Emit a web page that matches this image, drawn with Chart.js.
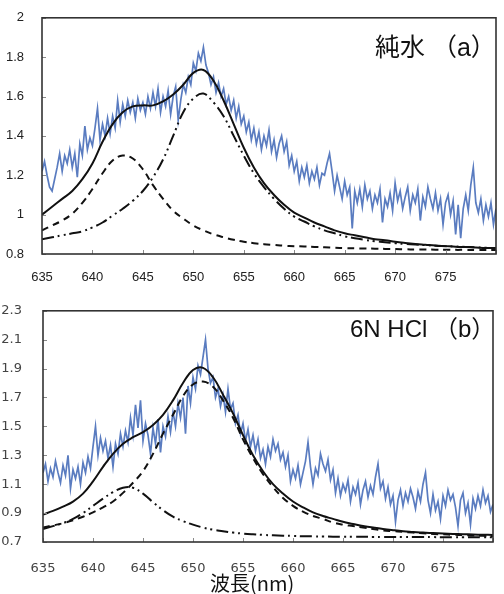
<!DOCTYPE html>
<html>
<head>
<meta charset="utf-8">
<script src="https://cdn.jsdelivr.net/npm/chart.js@4.4.0/dist/chart.umd.min.js"></script>
<style>
  body { margin: 0; width: 504px; height: 594px; background: #fff; position: relative; overflow: hidden; }
  canvas { position: absolute; left: 0; }
  .lbl { position: absolute; white-space: pre; color: #111; font-family: "Liberation Sans", "Noto Sans CJK JP", sans-serif; }
</style>
</head>
<body>
<canvas id="chartA" width="504" height="290" style="top:0"></canvas>
<canvas id="chartB" width="504" height="304" style="top:290px"></canvas>
<div class="lbl" style="left:375px; top:27px; font-size:25px;">純水 （a）</div>
<div class="lbl" style="left:350px; top:309px; font-size:24px;">6N HCl （b）</div>
<div class="lbl" style="left:210px; top:568px; font-size:20px; font-family:'Noto Sans CJK JP', sans-serif;">波長(nm)</div>
<script>
// wavelength grids (nm)
const rawStep = 0.25;
const rawNm = Array.from({ length: 181 }, (_, i) => 635 + i * rawStep);
const fitNm = Array.from({ length: 46 }, (_, i) => 635 + i);
const xTicks = [635, 640, 645, 650, 655, 660, 665, 670, 675, 680];

// (a) pure water
const rawA = [
  1.22, 1.27, 1.20, 1.14, 1.12, 1.18, 1.24, 1.31, 1.22, 1.30, 1.26, 1.33, 1.24, 1.31, 1.19, 1.36,
  1.30, 1.45, 1.33, 1.39, 1.35, 1.44, 1.54, 1.38, 1.46, 1.40, 1.49, 1.41, 1.50, 1.44, 1.58, 1.47,
  1.56, 1.50, 1.58, 1.52, 1.57, 1.49, 1.59, 1.53, 1.57, 1.51, 1.60, 1.54, 1.62, 1.55, 1.64, 1.52,
  1.60, 1.55, 1.63, 1.51, 1.60, 1.65, 1.48, 1.58, 1.66, 1.62, 1.70, 1.66, 1.77, 1.73, 1.82, 1.78,
  1.85, 1.76, 1.72, 1.66, 1.70, 1.62, 1.67, 1.60, 1.64, 1.56, 1.60, 1.53, 1.58, 1.49, 1.55, 1.46,
  1.50, 1.42, 1.47, 1.38, 1.44, 1.36, 1.42, 1.33, 1.40, 1.35, 1.43, 1.32, 1.38, 1.29, 1.36, 1.40,
  1.32, 1.37, 1.25, 1.30, 1.22, 1.27, 1.17, 1.24, 1.19, 1.25, 1.16, 1.22, 1.18, 1.24, 1.15, 1.21,
  1.20, 1.26, 1.31, 1.22, 1.12, 1.20, 1.14, 1.08, 1.17, 1.10, 1.14, 0.93, 1.12, 1.06, 1.13, 1.04,
  1.15, 1.08, 1.12, 1.03, 1.10, 1.06, 1.13, 0.96, 1.08, 1.04, 1.11, 1.02, 1.16, 1.07, 1.12, 1.03,
  1.09, 1.14, 1.02, 1.10, 1.06, 1.13, 0.97, 1.09, 1.04, 1.14, 1.08, 1.03, 1.11, 1.02, 1.08, 0.95,
  1.06, 1.10, 1.00, 1.07, 0.90, 1.05, 0.88, 1.03, 1.10, 1.02, 1.15, 1.24, 1.06, 1.01, 1.08, 0.97,
  1.05, 0.99, 1.06, 0.95, 1.03
];
const sumA = [
  1.00, 1.04, 1.08, 1.12, 1.18, 1.26, 1.37, 1.46, 1.52, 1.55, 1.555, 1.555, 1.575, 1.61, 1.66, 1.72,
  1.735, 1.68, 1.58, 1.46, 1.34, 1.24, 1.16, 1.10, 1.05, 1.01, 0.985, 0.96, 0.94, 0.92, 0.905, 0.895,
  0.885, 0.875, 0.87, 0.862, 0.856, 0.851, 0.847, 0.843, 0.84, 0.837, 0.835, 0.833, 0.831, 0.83
];
const peak1A = [
  0.92, 0.945, 0.97, 1.005, 1.06, 1.13, 1.21, 1.275, 1.30, 1.285, 1.23, 1.15, 1.08, 1.02, 0.98, 0.945,
  0.92, 0.90, 0.885, 0.872, 0.862, 0.855, 0.85, 0.846, 0.842, 0.84, 0.838, 0.836, 0.834, 0.832, 0.83, 0.829,
  0.828, 0.827, 0.826, 0.825, 0.824, 0.823, 0.823, 0.822, 0.822, 0.821, 0.821, 0.82, 0.82, 0.82
];
const peak2A = [
  0.875, 0.885, 0.895, 0.905, 0.915, 0.935, 0.96, 0.995, 1.03, 1.07, 1.12, 1.19, 1.28, 1.40, 1.52, 1.59,
  1.615, 1.57, 1.50, 1.40, 1.30, 1.21, 1.14, 1.08, 1.03, 0.99, 0.965, 0.94, 0.92, 0.905, 0.89, 0.88,
  0.872, 0.865, 0.86, 0.855, 0.851, 0.848, 0.845, 0.842, 0.84, 0.838, 0.836, 0.834, 0.832, 0.83
];

// (b) 6N HCl
const rawB = [
  1.18, 1.24, 1.12, 1.21, 1.15, 1.26, 1.18, 1.11, 1.23, 1.16, 1.30, 1.07, 1.20, 1.14, 1.22, 1.10,
  1.25, 1.18, 1.29, 1.21, 1.36, 1.50, 1.30, 1.42, 1.33, 1.40, 1.28, 1.37, 1.22, 1.38, 1.31, 1.45,
  1.36, 1.47, 1.39, 1.56, 1.44, 1.65, 1.49, 1.68, 1.40, 1.52, 1.44, 1.31, 1.49, 1.38, 1.55, 1.32,
  1.50, 1.43, 1.57, 1.46, 1.60, 1.50, 1.66, 1.56, 1.70, 1.45, 1.78, 1.66, 1.84, 1.76, 1.92, 1.86,
  1.98, 2.10, 1.90, 1.80, 1.84, 1.70, 1.76, 1.64, 1.72, 1.60, 1.76, 1.62, 1.66, 1.52, 1.58, 1.45,
  1.52, 1.40, 1.48, 1.36, 1.44, 1.33, 1.41, 1.28, 1.34, 1.24, 1.36, 1.29, 1.41, 1.33, 1.38, 1.27,
  1.32, 1.22, 1.30, 1.12, 1.20, 1.14, 1.23, 1.10, 1.18, 1.26, 1.39, 1.22, 1.10, 1.21, 1.16, 1.31,
  1.24, 1.19, 1.27, 1.13, 1.20, 1.04, 1.14, 1.02, 1.10, 1.05, 1.13, 0.98, 1.08, 1.03, 1.11, 0.96,
  1.06, 1.12, 1.01, 1.09, 1.03, 1.15, 1.24, 1.07, 1.12, 1.00, 1.08, 0.96, 1.02, 0.84, 0.99, 1.06,
  0.95, 1.04, 0.98, 1.07, 1.01, 0.93, 1.05, 0.98, 1.10, 1.18, 0.99, 0.90, 1.03, 0.92, 0.98, 0.86,
  1.02, 0.95, 1.06, 0.99, 1.03, 0.94, 0.81, 0.99, 1.04, 0.90, 0.97, 0.82, 1.00, 0.93, 1.02, 0.95,
  1.06, 0.97, 1.02, 0.91, 0.96
];
const sumB = [
  0.89, 0.915, 0.945, 0.98, 1.035, 1.12, 1.22, 1.31, 1.38, 1.425, 1.46, 1.51, 1.58, 1.68, 1.80, 1.89,
  1.905, 1.84, 1.72, 1.59, 1.44, 1.30, 1.19, 1.10, 1.035, 0.98, 0.94, 0.905, 0.88, 0.86, 0.84, 0.825,
  0.81, 0.80, 0.79, 0.782, 0.775, 0.77, 0.765, 0.762, 0.759, 0.756, 0.754, 0.752, 0.75, 0.749
];
const peak1B = [
  0.79, 0.81, 0.83, 0.86, 0.90, 0.95, 1.00, 1.045, 1.075, 1.075, 1.035, 0.975, 0.92, 0.875, 0.845, 0.82,
  0.80, 0.785, 0.775, 0.765, 0.758, 0.753, 0.749, 0.746, 0.744, 0.742, 0.74, 0.739, 0.738, 0.737, 0.737, 0.736,
  0.736, 0.735, 0.735, 0.735, 0.734, 0.734, 0.734, 0.734, 0.733, 0.733, 0.733, 0.733, 0.733, 0.733
];
const peak2B = [
  0.80, 0.815, 0.83, 0.85, 0.875, 0.905, 0.94, 0.98, 1.04, 1.11, 1.19, 1.31, 1.45, 1.58, 1.71, 1.79,
  1.81, 1.775, 1.68, 1.56, 1.41, 1.28, 1.17, 1.08, 1.005, 0.95, 0.91, 0.88, 0.86, 0.835, 0.82, 0.81,
  0.80, 0.79, 0.78, 0.775, 0.77, 0.765, 0.76, 0.756, 0.753, 0.75, 0.748, 0.745, 0.743, 0.74
];

const blue = '#5a7cc0';
const dashShort = [7, 5];
const dashDotDot = [12, 4, 2, 4, 2, 4];

function pts(xs, ys) {
  return xs.map((x, i) => ({ x: x, y: ys[i] }));
}

// frame round the plot area + small inward tick marks
const framePlugin = {
  id: 'frame',
  afterDatasetsDraw(chart) {
    const { ctx, chartArea: a, scales } = chart;
    ctx.save();
    ctx.strokeStyle = '#8a8a8a';
    ctx.lineWidth = 1;
    ctx.beginPath();
    scales.x.ticks.forEach(t => {
      const px = Math.round(scales.x.getPixelForValue(t.value)) + 0.5;
      ctx.moveTo(px, a.bottom);
      ctx.lineTo(px, a.bottom - 4);
    });
    scales.y.ticks.forEach(t => {
      const py = Math.round(scales.y.getPixelForValue(t.value)) + 0.5;
      ctx.moveTo(a.left, py);
      ctx.lineTo(a.left + 4, py);
    });
    ctx.stroke();
    ctx.strokeStyle = '#333';
    ctx.lineWidth = 1.6;
    ctx.strokeRect(a.left, a.top, a.right - a.left, a.bottom - a.top);
    ctx.restore();
  }
};

function fitLine(ys, dash) {
  return {
    data: pts(fitNm, ys),
    borderColor: '#111',
    borderWidth: 2,
    borderDash: dash,
    pointRadius: 0,
    tension: 0.4,
    fill: false
  };
}

function makePanel(canvas, cfg) {
  return new Chart(canvas, {
    type: 'line',
    data: {
      datasets: [
        fitLine(cfg.sum, []),
        fitLine(cfg.p1, cfg.dash1),
        fitLine(cfg.p2, cfg.dash2),
        {
          data: pts(rawNm, cfg.raw),
          borderColor: blue,
          borderWidth: 1.7,
          pointRadius: 0,
          tension: 0,
          fill: false
        }
      ]
    },
    options: {
      responsive: false,
      animation: false,
      layout: { padding: { top: cfg.top, right: 1, left: 0, bottom: 0 } },
      plugins: { legend: { display: false }, tooltip: { enabled: false } },
      scales: {
        x: {
          type: 'linear',
          min: 635,
          max: 680,
          afterBuildTicks: s => { s.ticks = xTicks.map(v => ({ value: v })); },
          afterFit: s => { s.height = cfg.xHeight; },
          grid: { display: false },
          border: { display: false },
          ticks: {
            autoSkip: false,
            maxRotation: 0,
            padding: cfg.xPad,
            color: cfg.tickColor,
            font: { family: cfg.tickFont, size: 13 },
            callback: v => (v === 680 ? '' : v)
          }
        },
        y: {
          min: cfg.yMin,
          max: cfg.yMax,
          afterBuildTicks: s => { s.ticks = cfg.yTicks.map(v => ({ value: v })); },
          afterFit: s => { s.width = cfg.yWidth; },
          grid: { display: false },
          border: { display: false },
          ticks: {
            padding: cfg.yPad,
            color: cfg.tickColor,
            font: { family: cfg.tickFont, size: 13 },
            callback: v => String(Number(v.toFixed(1)))
          }
        }
      }
    },
    plugins: [framePlugin]
  });
}

makePanel(document.getElementById('chartA'), {
  raw: rawA, sum: sumA, p1: peak1A, p2: peak2A,
  dash1: dashShort, dash2: dashDotDot,
  yMin: 0.8, yMax: 2, yTicks: [0.8, 1, 1.2, 1.4, 1.6, 1.8, 2],
  top: 17, xHeight: 36, yWidth: 42, xPad: 8, yPad: 10,
  tickFont: '"Liberation Sans", Arial, sans-serif', tickColor: '#222'
});

makePanel(document.getElementById('chartB'), {
  raw: rawB, sum: sumB, p1: peak1B, p2: peak2B,
  dash1: dashDotDot, dash2: dashShort,
  yMin: 0.7, yMax: 2.3, yTicks: [0.7, 0.9, 1.1, 1.3, 1.5, 1.7, 1.9, 2.1, 2.3],
  top: 12, xHeight: 52, yWidth: 43, xPad: 11, yPad: 13,
  tickFont: '"DejaVu Sans", Verdana, sans-serif', tickColor: '#444'
});
</script>
</body>
</html>
